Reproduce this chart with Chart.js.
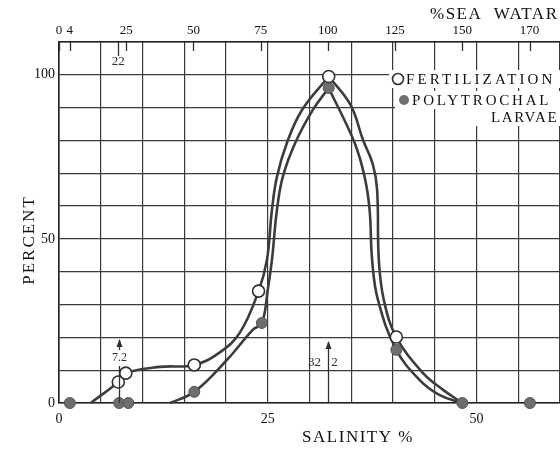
<!DOCTYPE html>
<html>
<head>
<meta charset="utf-8">
<script src="https://cdn.jsdelivr.net/npm/chart.js@4/dist/chart.umd.min.js"></script>
<style>
html, body { margin: 0; padding: 0; background: #fff; }
canvas { display: block; }
</style>
</head>
<body>
<canvas id="graph" width="560" height="454"></canvas>
<script>
// measured points: salinity (per mille) -> percent
const fertSalinity = [7.1, 8.0, 16.2, 23.9, 32.3, 40.4];
const fertPercent = [6.4, 9.1, 11.6, 34.1, 99.5, 20.1];
const larvaeSalinity = [1.3, 7.2, 8.3, 16.2, 24.3, 32.3, 40.4, 48.3, 56.4];
const larvaePercent = [0, 0, 0, 3.4, 24.4, 96, 16.2, 0, 0];

// the hand drawn curves
const fertCurveX = [3.8, 7.1, 8.0, 12.1, 16.2, 19.3, 21.7, 23.9, 24.9, 25.5, 26.1, 27.3, 29.1, 32.3, 34.9, 36.4, 37.6, 38.1, 38.3, 38.9, 40.4, 43.6, 46.0, 48.3];
const fertCurveY = [0, 6.4, 9.1, 11.0, 11.6, 15.5, 21.6, 34.1, 43.6, 58.8, 68.9, 79.3, 89.3, 99.5, 90.9, 80.2, 72.6, 64.9, 43.6, 31.4, 20.1, 9.1, 4.0, 0];
const larvaeCurveX = [13.3, 16.2, 20.1, 23.2, 24.3, 25.0, 25.5, 26.1, 26.8, 28.3, 30.4, 32.3, 35.4, 36.6, 37.2, 37.5, 38.2, 40.4, 43.2, 45.6, 48.3];
const larvaeCurveY = [0, 3.4, 13.1, 22.3, 24.4, 34.5, 43.6, 58.8, 68.9, 79.3, 89.3, 96, 79.3, 68.9, 58.8, 43.6, 31.4, 16.2, 7.0, 2.4, 0];

const salinityLabels = [0, 25, 50];
const percentLabels = [0, 50, 100];
// % sea water scale on top; the last mark is drawn at about 175 in the original
const seaWaterTicks = [0, 4, 22, 25, 50, 75, 100, 125, 150, 175];
const seaWaterLabels = ['0', '4', '22', '25', '50', '75', '100', '125', '150', '170'];
const fullSeaWater = 32.2; // salinity of 100% sea water
const markers = [7.2, 32.2];

const toXY = (xs, ys) => xs.map((x, i) => ({ x: x, y: ys[i] }));
// split a curve at its top so the peak stays pointed like the drawing
const peakIndex = ys => ys.indexOf(Math.max(...ys));
const serif = '"Liberation Serif", "DejaVu Serif", serif';
const ink = '#2f2f2f';

function curveSet(label, pts) {
    return {
        label: label,
        data: pts,
        showLine: true,
        pointRadius: 0,
        borderColor: '#3c3c3c',
        borderWidth: 2.6,
        tension: 0.4,
        order: 1
    };
}

const fertPts = toXY(fertCurveX, fertCurveY);
const larvaePts = toXY(larvaeCurveX, larvaeCurveY);
const fp = peakIndex(fertCurveY);
const lp = peakIndex(larvaeCurveY);

const annotations = {
    id: 'annotations',
    afterDraw(chart) {
        const c = chart.ctx;
        const x = chart.scales.x;
        const top = chart.chartArea.top;
        const bottom = chart.chartArea.bottom;
        c.save();
        c.strokeStyle = ink;
        c.fillStyle = ink;
        c.lineWidth = 1.3;

        // top scale tick marks, pointing into the plot
        seaWaterTicks.forEach(p => {
            const px = Math.round(x.getPixelForValue(p * fullSeaWater / 100)) + 0.5;
            c.beginPath();
            c.moveTo(px, top);
            c.lineTo(px, top + (p === 22 ? 14 : 9));
            c.stroke();
        });
        c.font = '13px ' + serif;
        c.textAlign = 'center';
        c.textBaseline = 'middle';
        c.fillText('22', x.getPixelForValue(22 * fullSeaWater / 100), top + 20);

        // arrows
        const arrow = (px, y1, y2) => {
            c.beginPath();
            c.moveTo(px, y1);
            c.lineTo(px, y2);
            c.stroke();
            c.beginPath();
            c.moveTo(px, y2 - 1);
            c.lineTo(px - 3, y2 + 7);
            c.lineTo(px + 3, y2 + 7);
            c.closePath();
            c.fill();
        };
        const m1 = Math.round(x.getPixelForValue(markers[0])) + 0.5;
        arrow(m1, 350, 340);
        c.font = '12px ' + serif;
        c.fillText('7.2', m1, 358);
        c.beginPath();
        c.moveTo(m1, 366);
        c.lineTo(m1, bottom);
        c.stroke();

        const m2 = Math.round(x.getPixelForValue(markers[1])) + 0.5;
        arrow(m2, bottom, 342);
        c.font = '13px ' + serif;
        c.fillText('32', m2 - 14, 363);
        c.fillText('2', m2 + 6, 363);

        // legend
        c.font = '15px ' + serif;
        c.textAlign = 'left';
        const rows = [
            { text: 'FERTILIZATION', x: 406, y: 79, sp: 3.1, mark: 'open' },
            { text: 'POLYTROCHAL', x: 412, y: 100, sp: 2.8, mark: 'full' },
            { text: 'LARVAE', x: 491, y: 117, sp: 1.6 }
        ];
        rows.forEach(r => {
            c.letterSpacing = r.sp + 'px';
            const w = c.measureText(r.text).width;
            c.fillStyle = '#fff';
            c.fillRect(r.x - 17, r.y - 9, w + 30, 18);
        });
        rows.forEach(r => {
            c.letterSpacing = r.sp + 'px';
            c.fillStyle = '#111';
            c.fillText(r.text, r.x, r.y + 1);
            if (r.mark === 'open') {
                c.beginPath();
                c.arc(r.x - 8, r.y, 5.5, 0, Math.PI * 2);
                c.fillStyle = '#fff';
                c.fill();
                c.lineWidth = 1.6;
                c.stroke();
            } else if (r.mark === 'full') {
                c.beginPath();
                c.arc(r.x - 8, r.y, 5, 0, Math.PI * 2);
                c.fillStyle = '#707070';
                c.fill();
            }
        });

        // headings
        c.fillStyle = '#111';
        c.font = '17px ' + serif;
        c.letterSpacing = '1.5px';
        c.textAlign = 'left';
        c.fillText('%SEA  WATAR', 430, 15);
        c.textAlign = 'center';
        c.fillText('SALINITY %', 358, 438);
        c.letterSpacing = '2px';
        c.translate(30, 240);
        c.rotate(-Math.PI / 2);
        c.fillText('PERCENT', 0, 0);
        c.restore();
    }
};

const ctx = document.getElementById('graph').getContext('2d');

const chart = new Chart(ctx, {
    type: 'scatter',
    data: {
        datasets: [
            {
                label: 'FERTILIZATION',
                data: toXY(fertSalinity, fertPercent),
                pointRadius: 6,
                pointBackgroundColor: '#fff',
                pointBorderColor: ink,
                pointBorderWidth: 1.6,
                order: 0
            },
            {
                label: 'POLYTROCHAL LARVAE',
                data: toXY(larvaeSalinity, larvaePercent),
                pointRadius: 5.5,
                pointBackgroundColor: '#6e6e6e',
                pointBorderColor: '#555',
                pointBorderWidth: 1,
                order: 0
            },
            curveSet('fert rise', fertPts.slice(0, fp + 1)),
            curveSet('fert fall', fertPts.slice(fp)),
            curveSet('larvae rise', larvaePts.slice(0, lp + 1)),
            curveSet('larvae fall', larvaePts.slice(lp))
        ]
    },
    options: {
        responsive: false,
        animation: false,
        clip: false,
        layout: { padding: 0, autoPadding: false },
        plugins: {
            legend: { display: false },
            tooltip: { enabled: false }
        },
        scales: {
            x: {
                type: 'linear',
                position: 'bottom',
                min: 0,
                max: 60,
                afterFit: s => { s.height = 51; s.paddingRight = 0; s.paddingLeft = 0; },
                grid: { color: '#3a3a3a', lineWidth: 1.2, drawTicks: false },
                border: { color: '#222', width: 1.6 },
                ticks: {
                    stepSize: 5,
                    autoSkip: false,
                    maxRotation: 0,
                    padding: 8,
                    color: '#111',
                    font: { family: serif, size: 14 },
                    callback: v => salinityLabels.includes(v) ? v : ''
                }
            },
            x2: {
                type: 'linear',
                position: 'top',
                min: 0,
                max: 60,
                afterFit: s => { s.height = 42; s.paddingRight = 0; s.paddingLeft = 0; },
                afterBuildTicks: s => { s.ticks = seaWaterTicks.map(p => ({ value: p * fullSeaWater / 100 })); },
                grid: { display: false, drawTicks: false },
                border: { color: '#222', width: 1.6 },
                ticks: {
                    autoSkip: false,
                    maxRotation: 0,
                    padding: 4,
                    color: '#111',
                    font: { family: serif, size: 13 },
                    callback: (v, i) => seaWaterTicks[i] === 22 ? '' : seaWaterLabels[i]
                }
            },
            y: {
                min: 0,
                max: 110,
                afterFit: s => { s.width = 59; },
                grid: { color: '#3a3a3a', lineWidth: 1.2, drawTicks: false },
                border: { color: '#222', width: 1.6 },
                ticks: {
                    stepSize: 10,
                    autoSkip: false,
                    padding: 4,
                    color: '#111',
                    font: { family: serif, size: 14 },
                    callback: v => percentLabels.includes(v) ? v : ''
                }
            }
        }
    },
    plugins: [annotations]
});
</script>
</body>
</html>
